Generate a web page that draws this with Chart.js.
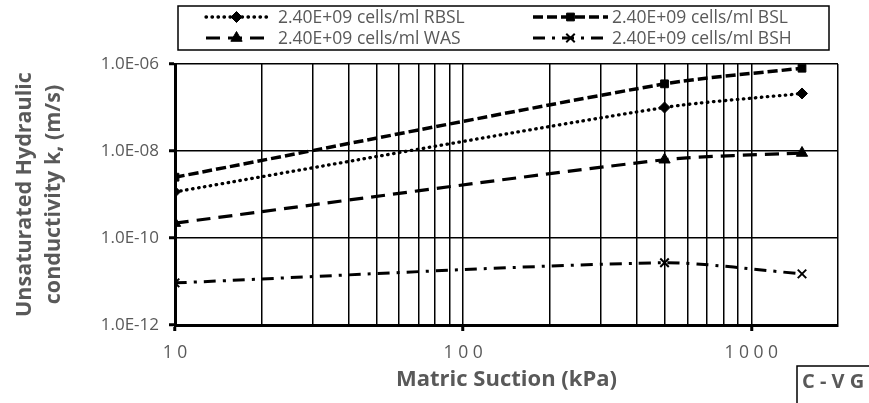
<!DOCTYPE html>
<html>
<head>
<meta charset="utf-8">
<script src="https://cdn.jsdelivr.net/npm/chart.js@4.4.0/dist/chart.umd.min.js"></script>
<style>
  html, body { margin: 0; padding: 0; background: #fff; }
  #wrap { width: 869px; height: 403px; }
</style>
</head>
<body>
<div id="wrap"><canvas id="myChart" width="869" height="403"></canvas></div>
<script>
// data
const suction = [10, 500, 1500];
const rbsl = [1.15e-9, 1.0e-7, 2.1e-7];
const bsl = [2.5e-9, 3.5e-7, 8.0e-7];
const was = [2.2e-10, 6.3e-9, 9.0e-9];
const bsh = [9.3e-12, 2.7e-11, 1.5e-11];
const seriesNames = ['2.40E+09 cells/ml RBSL', '2.40E+09 cells/ml BSL', '2.40E+09 cells/ml WAS', '2.40E+09 cells/ml BSH'];
const xTicks = [10, 20, 30, 40, 50, 60, 70, 80, 90, 100, 200, 300, 400, 500, 600, 700, 800, 900, 1000, 2000];
const xLabels = { 10: '1 0', 100: '1 0 0', 1000: '1 0 0 0' };
const yTicks = [1e-12, 1e-10, 1e-8, 1e-6];

const grey = '#595959';
const fontName = '"Open Sans", Lato, sans-serif';

function pts(ys) {
  return suction.map((x, i) => ({ x: x, y: ys[i] }));
}

function lineSet(label, ys, dash, cap, width, style, radius) {
  return {
    label: label,
    data: pts(ys),
    borderColor: '#000',
    backgroundColor: '#000',
    borderWidth: width,
    borderDash: dash,
    borderCapStyle: cap,
    tension: 0.25,
    pointStyle: style,
    pointRadius: radius,
    pointBorderWidth: style === 'crossRot' ? 2 : 1,
    pointBorderColor: '#000',
    pointBackgroundColor: '#000',
    fill: false
  };
}

const datasets = [
  lineSet(seriesNames[0], rbsl, [0.5, 5.5], 'round', 3.3, 'rectRot', 5.5),
  lineSet(seriesNames[1], bsl, [10, 4], 'butt', 3.5, 'rect', 5.5),
  lineSet(seriesNames[2], was, [14, 8], 'butt', 3.2, 'triangle', 6.5),
  lineSet(seriesNames[3], bsh, [12, 7, 3, 7], 'butt', 3, 'crossRot', 6)
];

// 범례 + C-VG 박스
const extras = {
  id: 'extras',
  afterDraw(chart) {
    const c = chart.ctx;
    c.save();
    c.strokeStyle = '#000';
    c.lineWidth = 1.5;
    c.strokeRect(178, 6, 651, 44);

    const slots = [
      { x0: 206, x1: 267, tx: 278, y: 17 },
      { x0: 533, x1: 608, tx: 612, y: 17 },
      { x0: 206, x1: 267, tx: 278, y: 38 },
      { x0: 533, x1: 608, tx: 612, y: 38 }
    ];
    datasets.forEach((ds, i) => {
      const s = slots[i];
      c.save();
      c.strokeStyle = '#000';
      c.lineWidth = ds.borderWidth;
      c.lineCap = ds.borderCapStyle;
      c.setLineDash(ds.borderDash);
      c.beginPath();
      c.moveTo(s.x0, s.y);
      c.lineTo(s.x1, s.y);
      c.stroke();
      c.restore();
      const opts = {
        pointStyle: ds.pointStyle,
        radius: ds.pointRadius,
        rotation: 0,
        borderWidth: ds.pointBorderWidth
      };
      c.save();
      c.fillStyle = '#000';
      c.strokeStyle = '#000';
      c.lineWidth = ds.pointBorderWidth;
      Chart.helpers.drawPoint(c, opts, (s.x0 + s.x1) / 2, s.y);
      c.restore();
      c.fillStyle = grey;
      c.font = '17.5px ' + fontName;
      c.textBaseline = 'middle';
      c.textAlign = 'left';
      c.fillText(ds.label, s.tx, s.y + 1);
    });

    // C-VG 박스
    c.lineWidth = 1.5;
    c.beginPath();
    c.moveTo(797, 410);
    c.lineTo(797, 366);
    c.lineTo(875, 366);
    c.stroke();
    c.fillStyle = grey;
    c.font = 'bold 20px ' + fontName;
    c.textBaseline = 'middle';
    c.fillText('C - V G', 802, 382);
    c.restore();
  }
};

document.addEventListener('DOMContentLoaded', function () {
  const ctx = document.getElementById('myChart').getContext('2d');

  new Chart(ctx, {
    type: 'line',
    data: { datasets: datasets },
    options: {
      responsive: false,
      animation: false,
      devicePixelRatio: 1,
      layout: { padding: { top: 64, right: 31, left: 0, bottom: 0 } },
      plugins: {
        legend: { display: false },
        tooltip: { enabled: false }
      },
      scales: {
        x: {
          type: 'logarithmic',
          min: 10,
          max: 2000,
          afterBuildTicks: s => { s.ticks = xTicks.map(v => ({ value: v })); },
          afterFit: s => { s.height = 78; },
          grid: {
            color: '#000',
            lineWidth: 1.5,
            tickLength: 6,
            tickColor: c => (xLabels[c.tick && c.tick.value] ? '#000' : 'rgba(0,0,0,0)'),
            tickWidth: 3
          },
          border: { color: '#000', width: 3 },
          ticks: {
            autoSkip: false,
            maxRotation: 0,
            padding: 12,
            color: grey,
            font: { family: fontName, size: 17.5 },
            callback: v => xLabels[v] || ''
          },
          title: {
            display: true,
            text: 'Matric Suction (kPa)',
            color: grey,
            font: { family: fontName, size: 22, weight: 'bold' },
            padding: { top: 0, bottom: 10 }
          }
        },
        y: {
          type: 'logarithmic',
          min: 1e-12,
          max: 1e-6,
          afterBuildTicks: s => { s.ticks = yTicks.map(v => ({ value: v })); },
          afterFit: s => { s.width = 175; },
          grid: {
            color: '#000',
            lineWidth: 1.5,
            tickLength: 6,
            tickColor: '#000',
            tickWidth: 3
          },
          border: { color: '#000', width: 3 },
          ticks: {
            padding: 10,
            color: grey,
            font: { family: fontName, size: 17 },
            callback: v => {
              const e = Math.round(Math.log10(v));
              return '1.0E' + (e < 0 ? '-' : '+') + String(Math.abs(e)).padStart(2, '0');
            }
          },
          title: {
            display: true,
            text: ['Unsaturated Hydraulic', 'conductivity k, (m/s)'],
            color: grey,
            font: { family: fontName, size: 21.5, weight: 'bold', lineHeight: 1.35 },
            padding: { top: 10, bottom: 0 }
          }
        }
      }
    },
    plugins: [extras]
  });
});
</script>
</body>
</html>
